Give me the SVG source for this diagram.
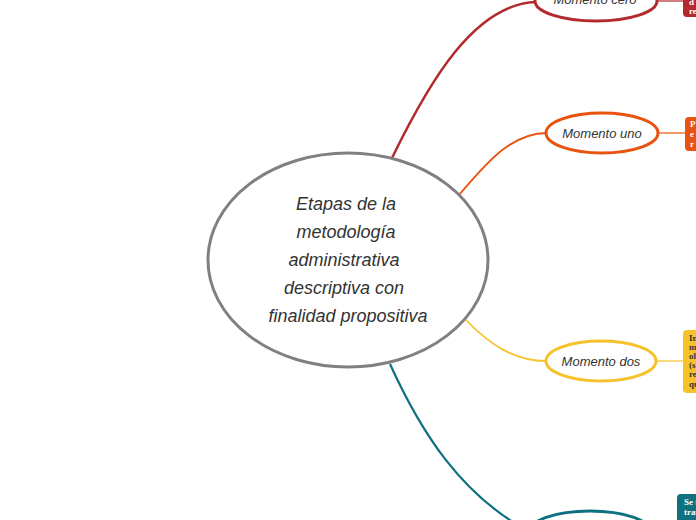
<svg xmlns="http://www.w3.org/2000/svg" width="696" height="520" viewBox="0 0 696 520">
<style>
.node{fill:#fff;stroke-width:3}
.hand{font-family:"Liberation Sans","DejaVu Sans",sans-serif;font-style:italic;fill:#333;text-anchor:middle}
.box{font-family:"Liberation Serif",serif;font-size:9px;font-weight:bold}
.con{fill:none}
</style>
<rect width="696" height="520" fill="#fff"/>
<g id="connectors">
<path class="con" d="M392,158 C430,80 475,4 536,2" stroke="#b22a2e" stroke-width="2.5"/>
<path class="con" d="M459,195 C485,165 510,133 547,133" stroke="#e8540f" stroke-width="1.8"/>
<path class="con" d="M466,320 C490,345 515,361 546,361" stroke="#f5c22b" stroke-width="1.8"/>
<path class="con" d="M390,364 C420,430 460,495 530,532" stroke="#0e7180" stroke-width="2.2"/>
<path class="con" d="M656,1 L683,1" stroke="#b22a2e" stroke-width="1.2"/>
<path class="con" d="M659,133 L685,133" stroke="#e8540f" stroke-width="1.2"/>
<path class="con" d="M657,361 L683,361" stroke="#f5c22b" stroke-width="1.2"/>
</g>
<g id="central">
<ellipse class="node" cx="348" cy="260" rx="140" ry="107" stroke="#808080"/>
<text class="hand" font-size="18"><tspan x="346" y="210">Etapas de la</tspan><tspan x="346" y="238">metodología</tspan><tspan x="344" y="266">administrativa</tspan><tspan x="344" y="294">descriptiva con</tspan><tspan x="348" y="322">finalidad propositiva</tspan></text>
</g>
<g id="momento-cero">
<ellipse class="node" cx="596" cy="1" rx="61" ry="20" stroke="#b22a2e"/>
<text class="hand" font-size="13" x="595" y="4">Momento cero</text>
</g>
<g id="momento-uno">
<ellipse class="node" cx="602" cy="133" rx="56" ry="20" stroke="#e8540f"/>
<text class="hand" font-size="13" x="602" y="138">Momento uno</text>
</g>
<g id="momento-dos">
<ellipse class="node" cx="601" cy="361" rx="55" ry="20" stroke="#f5c22b"/>
<text class="hand" font-size="13" x="601" y="366">Momento dos</text>
</g>
<g id="momento-tres">
<ellipse class="node" cx="590" cy="533" rx="62" ry="22" stroke="#0e7180"/>
</g>
<g id="nota-cero">
<rect x="683" y="-12" width="30" height="29" rx="4" fill="#b22a2e"/>
<text class="box" fill="#fff"><tspan x="689" y="5">d</tspan><tspan x="689" y="14">re</tspan></text>
</g>
<g id="nota-uno">
<rect x="685" y="117" width="30" height="34" rx="4" fill="#e8540f"/>
<text class="box" fill="#fff"><tspan x="690" y="127">P</tspan><tspan x="690" y="137">e</tspan><tspan x="690" y="147">r</tspan></text>
</g>
<g id="nota-dos">
<rect x="683" y="330" width="30" height="63" rx="4" fill="#f5c22b"/>
<text class="box" fill="#333"><tspan x="689" y="341">In</tspan><tspan x="689" y="350">m</tspan><tspan x="689" y="359">ol</tspan><tspan x="689" y="368">(s</tspan><tspan x="689" y="377">re</tspan><tspan x="689" y="387">qu</tspan></text>
</g>
<g id="nota-tres">
<rect x="677" y="494" width="40" height="40" rx="4" fill="#0e7180"/>
<text class="box" fill="#fff" font-weight="normal"><tspan x="684" y="505">Se t</tspan><tspan x="684" y="515">trav</tspan></text>
</g>
</svg>
